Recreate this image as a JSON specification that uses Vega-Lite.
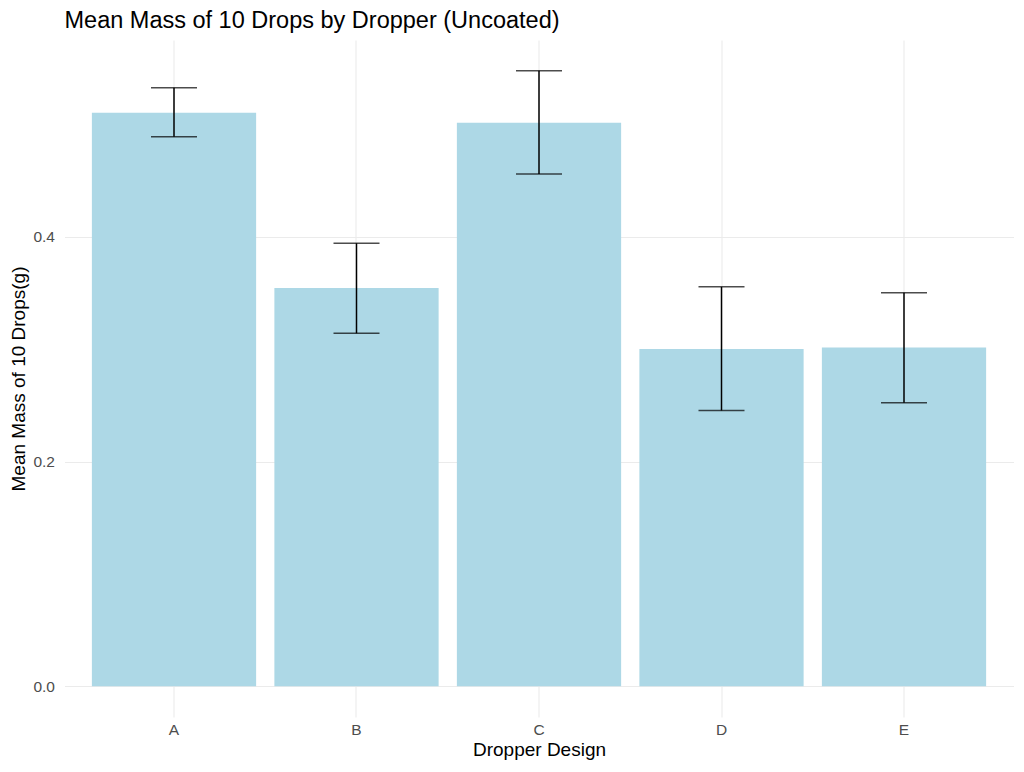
{
  "$schema": "https://vega.github.io/schema/vega-lite/v6.json",
  "autosize": {"type": "none"},
  "padding": {"left": 64.5, "top": 40, "right": 10.5, "bottom": 55},
  "width": 949,
  "height": 677,
  "background": "white",
  "title": {
    "text": "Mean Mass of 10 Drops by Dropper (Uncoated)",
    "anchor": "start",
    "frame": "group",
    "font": "Liberation Sans",
    "fontSize": 23.5,
    "fontWeight": "normal",
    "color": "black",
    "dx": 0,
    "offset": 8
  },
  "config": {
    "view": {"stroke": null},
    "axis": {
      "labelFont": "Liberation Sans",
      "titleFont": "Liberation Sans",
      "labelFontSize": 15.5,
      "labelColor": "#4D4D4D",
      "titleFontSize": 19,
      "titleFontWeight": "normal",
      "titleColor": "black",
      "domain": false,
      "ticks": false,
      "gridColor": "#EBEBEB"
    }
  },
  "data": {
    "values": [
      {"dropper": "A", "mean": 0.5107, "lo": 0.4893, "hi": 0.5328},
      {"dropper": "B", "mean": 0.3545, "lo": 0.3143, "hi": 0.3944},
      {"dropper": "C", "mean": 0.5018, "lo": 0.456, "hi": 0.548},
      {"dropper": "D", "mean": 0.3003, "lo": 0.2455, "hi": 0.3556},
      {"dropper": "E", "mean": 0.3015, "lo": 0.2524, "hi": 0.3503}
    ]
  },
  "resolve": {"axis": {"y": "independent"}},
  "layer": [
    {
      "mark": {"type": "rule", "opacity": 0},
      "encoding": {
        "y": {
          "datum": 0.1,
          "type": "quantitative",
          "scale": {"domain": [-0.0274, 0.5754], "nice": false, "zero": false},
          "axis": {"orient": "left", "values": [0.1, 0.3, 0.5], "labels": false, "title": null, "gridWidth": 0.6, "gridColor": "#F0F0F0", "zindex": 0}
        }
      }
    },
    {
      "mark": {"type": "bar", "color": "#ADD8E6"},
      "encoding": {
        "x": {
          "field": "dropper",
          "type": "nominal",
          "scale": {"paddingInner": 0.1, "paddingOuter": 0.15},
          "axis": {"title": "Dropper Design", "labelAngle": 0, "labelPadding": 5, "titlePadding": 3, "grid": true, "gridWidth": 1.1, "bandPosition": 0.5, "zindex": 0}
        },
        "y": {
          "field": "mean",
          "type": "quantitative",
          "scale": {"domain": [-0.0274, 0.5754], "nice": false, "zero": false},
          "axis": {"orient": "left", "title": "Mean Mass of 10 Drops(g)", "values": [0, 0.2, 0.4], "format": ".1f", "labelPadding": 10, "titlePadding": 4, "grid": true, "gridWidth": 1.1, "zindex": 0}
        },
        "y2": {"datum": 0}
      }
    },
    {
      "mark": {"type": "rule", "color": "black", "strokeWidth": 1.5},
      "encoding": {
        "x": {"field": "dropper", "type": "nominal"},
        "y": {"field": "lo", "type": "quantitative", "axis": null},
        "y2": {"field": "hi"}
      }
    },
    {
      "mark": {"type": "tick", "color": "black", "thickness": 1.5, "size": 46, "orient": "horizontal"},
      "encoding": {
        "x": {"field": "dropper", "type": "nominal"},
        "y": {"field": "lo", "type": "quantitative", "axis": null}
      }
    },
    {
      "mark": {"type": "tick", "color": "black", "thickness": 1.5, "size": 46, "orient": "horizontal"},
      "encoding": {
        "x": {"field": "dropper", "type": "nominal"},
        "y": {"field": "hi", "type": "quantitative", "axis": null}
      }
    }
  ]
}
